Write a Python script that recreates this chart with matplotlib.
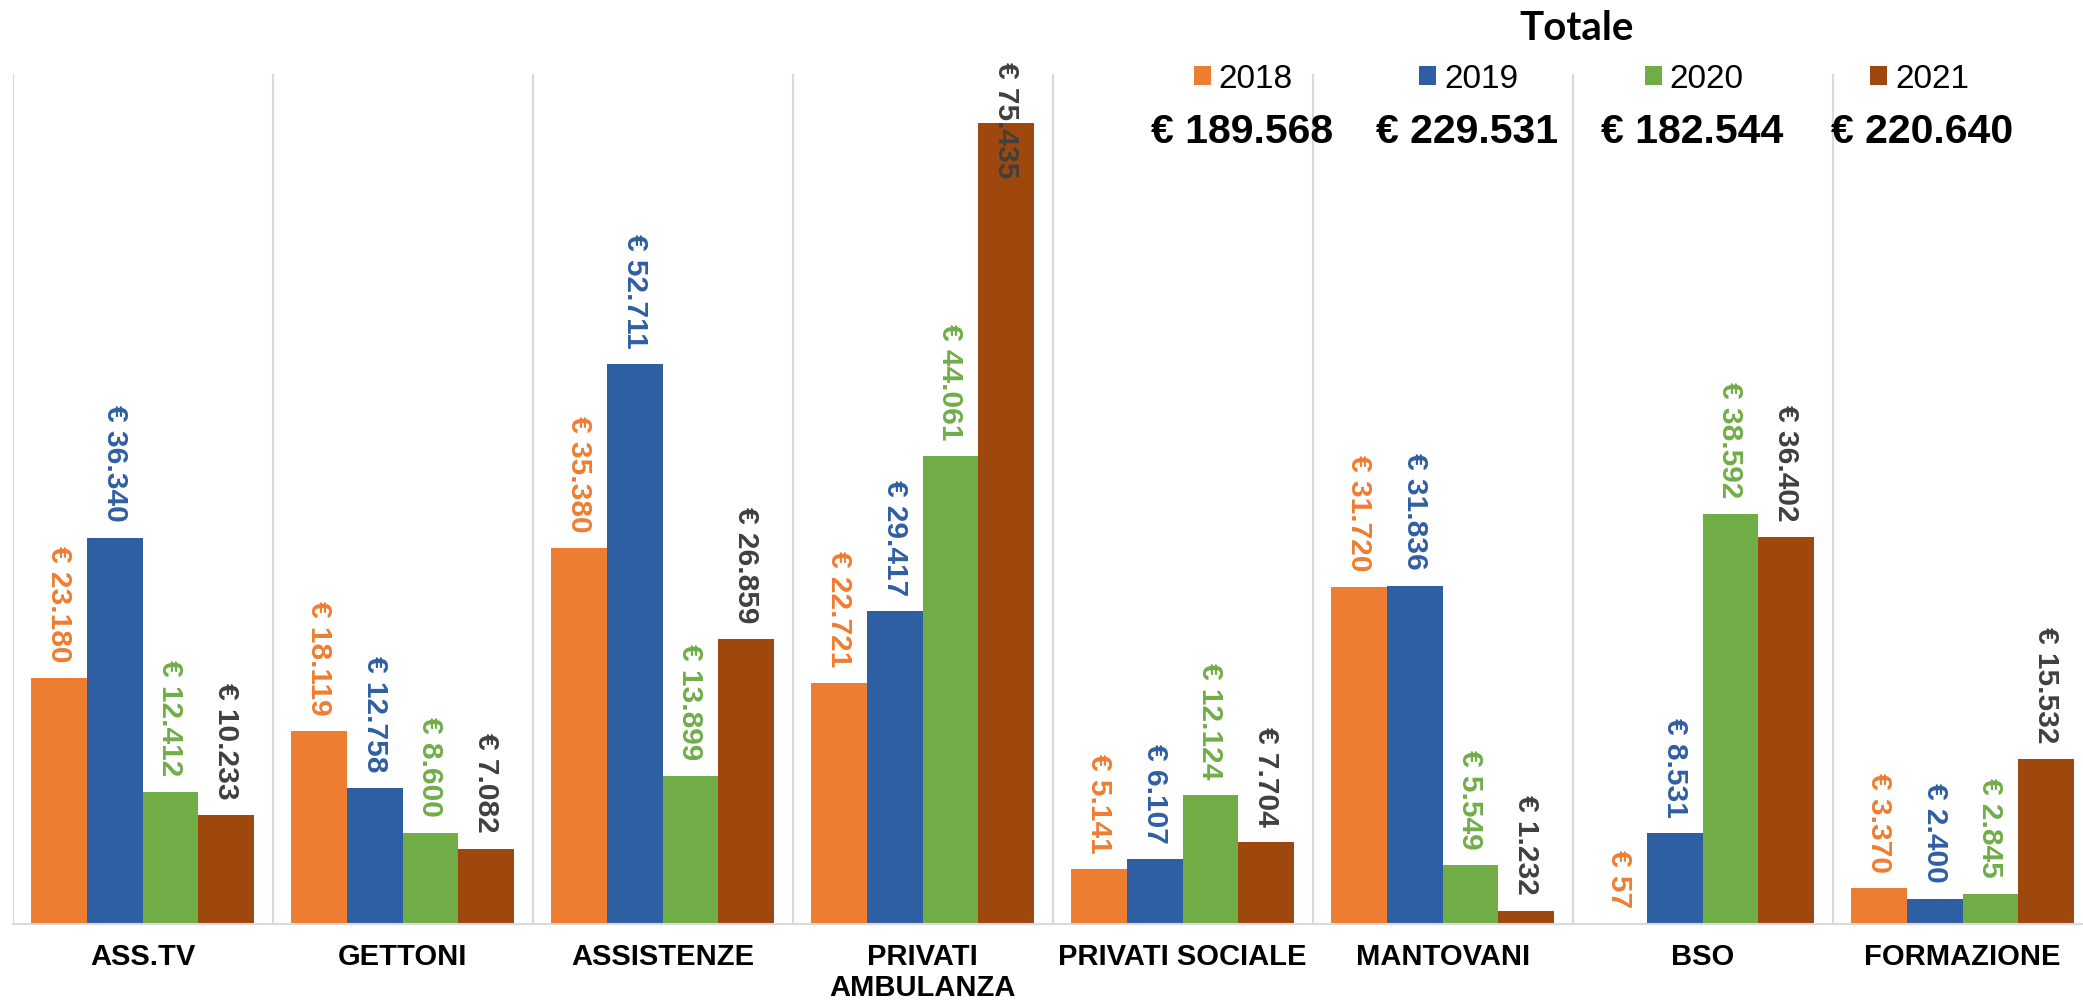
import matplotlib
matplotlib.use("Agg")
import matplotlib.pyplot as plt
import numpy as np

plt.rcParams['font.family'] = ['Liberation Sans', 'DejaVu Sans']

categories = ["ASS.TV", "GETTONI", "ASSISTENZE", "PRIVATI\nAMBULANZA",
              "PRIVATI SOCIALE", "MANTOVANI", "BSO", "FORMAZIONE"]
years = ["2018", "2019", "2020", "2021"]
v2018 = [23180, 18119, 35380, 22721, 5141, 31720, 57, 3370]
v2019 = [36340, 12758, 52711, 29417, 6107, 31836, 8531, 2400]
v2020 = [12412, 8600, 13899, 44061, 12124, 5549, 38592, 2845]
v2021 = [10233, 7082, 26859, 75435, 7704, 1232, 36402, 15532]
totals = [189568, 229531, 182544, 220640]

bar_colors = ["#ED7D31", "#2F5FA3", "#70AD47", "#9E480E"]
label_colors = ["#ED7D31", "#2F5FA3", "#70AD47", "#404040"]

def eur(v):
    return "€ " + f"{v:,}".replace(",", ".")

W, H = 2083, 1004
fig = plt.figure(figsize=(W / 100, H / 100), dpi=100)
ax = fig.add_axes([12.6 / W, 79 / H, 2080 / W, 850 / H])

x = np.arange(len(categories))
bw = 0.214
series = [v2018, v2019, v2020, v2021]
containers = []
for i, vals in enumerate(series):
    c = ax.bar(x + (i - 1.5) * bw, vals, width=bw, color=bar_colors[i],
               label=years[i], zorder=2)
    containers.append(c)

ax.set_xlim(-0.5, len(categories) - 0.5)
ax.set_ylim(0, 80000)
ax.set_yticks([])
ax.set_xticks(x)
ax.set_xticklabels(categories, fontsize=21, fontweight='bold', linespacing=1.15)
ax.set_xticks(np.arange(-0.5, len(categories), 1), minor=True)
ax.tick_params(which='both', length=0)
ax.tick_params(axis='x', which='major', pad=13)
ax.grid(which='minor', axis='x', color='#D9D9D9', lw=1.5)
ax.set_axisbelow(True)
for s in ['top', 'right', 'left']:
    ax.spines[s].set_visible(False)
ax.spines['bottom'].set_color('#D9D9D9')
ax.spines['bottom'].set_linewidth(1.5)

labels = []
for i, vals in enumerate(series):
    for j, v in enumerate(vals):
        t = ax.annotate(eur(v), xy=(x[j] + (i - 1.5) * bw, v), xytext=(0, 12),
                        textcoords='offset points', rotation=-90,
                        ha='center', va='bottom', fontsize=21.5,
                        fontweight='bold', color=label_colors[i], zorder=3)
        labels.append(t)

fig.canvas.draw()
r = fig.canvas.get_renderer()
limit = H - 62
for t in labels:
    bb = t.get_window_extent(r)
    if bb.y1 > limit:
        dx, dy = t.xyann
        t.xyann = (dx, dy - (bb.y1 - limit) * 72 / 100)

leg = fig.legend(handles=containers, labels=years, loc='center left',
                 bbox_to_anchor=(1194 / W, 1 - 80 / H), ncol=4, frameon=False,
                 fontsize=24, handlelength=0.5, handleheight=0.5,
                 handletextpad=0.24, columnspacing=3.8, borderpad=0,
                 borderaxespad=0)

tot_x = [1242, 1467, 1692, 1922]
for tx, tv in zip(tot_x, totals):
    fig.text(tx / W, 1 - 132 / H, eur(tv), ha='center', va='center',
             fontsize=29.5, fontweight='bold', color='black')

fig.text(1577 / W, 1 - 29 / H, "Totale", ha='center', va='center',
         fontsize=29, fontweight='bold', family=['Lato', 'DejaVu Sans'])

fig.savefig("out.png", dpi=100)
